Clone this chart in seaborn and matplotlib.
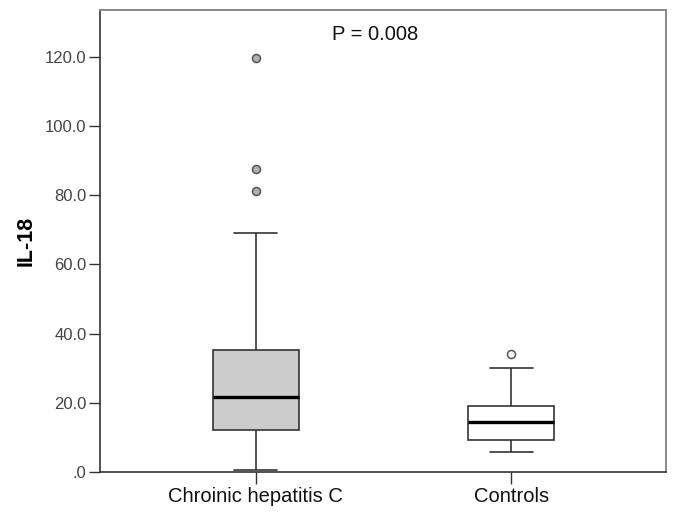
import numpy as np
import pandas as pd
import matplotlib
matplotlib.use("Agg")
import matplotlib.pyplot as plt
import seaborn as sns

# Box-plot summaries of serum IL-18 per group
groups = ["Chroinic hepatitis C", "Controls"]
q1 = [12.1, 9.3]
medians = [21.8, 14.4]
q3 = [35.3, 19.1]
whisker_low = [0.5, 5.9]
whisker_high = [69.0, 29.9]
outliers = [[81.2, 87.6, 119.7], [34.1]]

box_colors = ["#cccccc", "#ffffff"]
flier_faces = ["#b0b0b0", "#ffffff"]

y_ticks = [0, 20, 40, 60, 80, 100, 120]
y_tick_labels = [".0", "20.0", "40.0", "60.0", "80.0", "100.0", "120.0"]
y_label = "IL-18"
p_text = "P = 0.008"


def sample_from_summary(lo, a, m, b, hi, extra, k=4):
    """Build 4k+1 sorted values whose linear-interpolated quartiles are
    exactly (a, m, b), whose whiskers end at lo/hi and with the given
    outliers beyond the upper whisker."""
    below = [lo] * k
    lower_mid = [a] * k
    upper_mid = [m] * k
    top = [hi] + list(extra)
    top = top + [hi] * (k - len(top))
    return sorted(below + lower_mid + upper_mid + [b] + top)


rows = []
for i, g in enumerate(groups):
    vals = sample_from_summary(whisker_low[i], q1[i], medians[i], q3[i],
                               whisker_high[i], outliers[i])
    rows += [(g, v) for v in vals]
df = pd.DataFrame(rows, columns=["group", "IL18"])

sns.set_theme(style="white")
plt.rcParams["font.family"] = ["Liberation Sans", "DejaVu Sans"]

fig = plt.figure(figsize=(6.75, 5.13), dpi=100)
ax = fig.add_axes([0.148, 0.080, 0.839, 0.9005])

sns.boxplot(
    data=df, x="group", y="IL18", hue="group", order=groups,
    hue_order=groups, palette=box_colors, legend=False,
    width=0.337, whis=1.5, linecolor="#333333", linewidth=1.2,
    medianprops={"color": "black", "linewidth": 2.4},
    flierprops={"marker": "o", "markersize": 5.8,
                "markeredgecolor": "#555555", "markeredgewidth": 1.1},
    ax=ax,
)

# distinct outlier fills per group
flier_lines = [ln for ln in ax.lines if ln.get_marker() == "o"]
for ln in flier_lines:
    xs = np.asarray(ln.get_xdata(), dtype=float)
    if xs.size:
        idx = int(round(xs[0]))
        ln.set_markerfacecolor(flier_faces[idx])

ax.set_xlim(-0.61, 1.607)
ax.set_ylim(0, 133.5)
ax.set_yticks(y_ticks)
ax.set_yticklabels(y_tick_labels)
ax.set_xlabel("")
ax.set_ylabel(y_label, fontsize=15.5, fontweight="bold", color="black",
              labelpad=6)

ax.tick_params(axis="y", left=True, length=8, width=1.0, color="#333333",
               labelcolor="#444444", labelsize=12, pad=1.5)
ax.tick_params(axis="x", bottom=True, length=8.5, width=1.0,
               color="#333333", labelcolor="#111111", labelsize=14.5, pad=2)

for side in ["left", "bottom"]:
    ax.spines[side].set_color("#333333")
    ax.spines[side].set_linewidth(1.2)
for side in ["top", "right"]:
    ax.spines[side].set_color("#888888")
    ax.spines[side].set_linewidth(1.4)

ax.text(0.486, 0.948, p_text, transform=ax.transAxes, ha="center",
        va="center", fontsize=14.5, color="#111111")

fig.savefig("out.png", dpi=100, facecolor="white")
